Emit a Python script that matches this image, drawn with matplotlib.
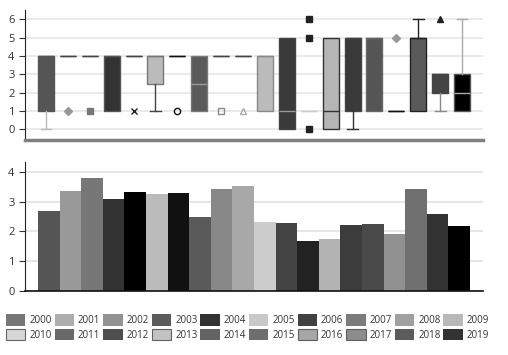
import matplotlib
matplotlib.use("Agg")
import matplotlib.pyplot as plt
from matplotlib.patches import Patch

plt.rcParams['font.family'] = ['Open Sans', 'DejaVu Sans']

years = [str(y) for y in range(2000, 2020)]

# box plot stats
q1 = [1, 4, 4, 1, 4, 2.5, 4, 1, 4, 4, 1, 0, 1, 0, 1, 1, 1, 1, 2, 1]
med = [4, 4, 4, 4, 4, 4, 4, 2.5, 4, 4, 4, 1, 1, 1, 5, 5, 1, 5, 3, 2]
q3 = [4, 4, 4, 4, 4, 4, 4, 4, 4, 4, 4, 5, 1, 5, 5, 5, 1, 5, 3, 3]
whislo = [0, 4, 4, 1, 4, 1, 4, 1, 4, 4, 1, 0, 1, 0, 0, 1, 1, 1, 1, 1]
whishi = [4, 4, 4, 4, 4, 4, 4, 4, 4, 4, 4, 5, 1, 5, 5, 5, 1, 6, 3, 6]
fliers = [[], [1], [1], [], [1], [], [1], [], [1], [1],
          [], [], [0, 5, 6], [], [], [], [5], [], [6], []]

# bar values
bar_values = [2.70, 3.37, 3.80, 3.08, 3.31, 3.24, 3.30, 2.47, 3.43, 3.53,
              2.31, 2.29, 1.68, 1.73, 2.21, 2.26, 1.92, 3.43, 2.57, 2.19]

# styles per box: face, edge, median, whisker, flier marker, flier face, flier edge
box_styles = [
    ('#555555', '#555555', '#555555', '#bbbbbb', 'o', 'none', 'none'),
    ('#999999', '#444444', '#444444', '#444444', 'D', '#999999', '#999999'),
    ('#777777', '#444444', '#444444', '#444444', 's', '#777777', '#777777'),
    ('#333333', '#555555', '#555555', '#555555', 'o', 'none', 'none'),
    ('#222222', '#444444', '#444444', '#444444', 'x', '#222222', '#222222'),
    ('#bbbbbb', '#777777', '#777777', '#444444', 'o', 'none', 'none'),
    ('#111111', '#111111', '#111111', '#111111', 'o', 'none', '#111111'),
    ('#5a5a5a', '#777777', '#999999', '#555555', 'o', 'none', 'none'),
    ('#888888', '#444444', '#444444', '#444444', 's', 'none', '#888888'),
    ('#aaaaaa', '#444444', '#444444', '#444444', '^', 'none', '#aaaaaa'),
    ('#bbbbbb', '#888888', '#888888', '#888888', 'o', 'none', 'none'),
    ('#3a3a3a', '#444444', '#999999', '#444444', 'o', 'none', 'none'),
    ('#222222', '#cccccc', '#cccccc', '#cccccc', 's', '#222222', '#222222'),
    ('#b5b5b5', '#333333', '#333333', '#333333', 'o', 'none', 'none'),
    ('#3a3a3a', '#444444', '#444444', '#333333', 'o', 'none', 'none'),
    ('#555555', '#666666', '#666666', '#666666', 'o', 'none', 'none'),
    ('#999999', '#111111', '#111111', '#111111', 'D', '#999999', '#999999'),
    ('#5a5a5a', '#222222', '#222222', '#222222', 'o', 'none', 'none'),
    ('#444444', '#444444', '#444444', '#888888', '^', '#222222', '#222222'),
    ('#000000', '#555555', '#aaaaaa', '#aaaaaa', 'o', 'none', 'none'),
]

bar_colors = ['#555555', '#999999', '#777777', '#333333', '#000000',
              '#bbbbbb', '#111111', '#5a5a5a', '#888888', '#a8a8a8',
              '#cccccc', '#444444', '#222222', '#b3b3b3', '#3c3c3c',
              '#4a4a4a', '#909090', '#707070', '#333333', '#000000']

# legend swatches that carry an outline in the reference
outlined = {'2010', '2013', '2016', '2017'}

fig = plt.figure(figsize=(5.08, 3.55), dpi=100)
W, H = 508, 355
ax_top = fig.add_axes([25 / W, 1 - 140 / H, 458 / W, 130 / H])
ax_bot = fig.add_axes([25 / W, 1 - 291 / H, 458 / W, 129 / H])

# top: box plots
for i, yr in enumerate(years):
    face, edge, mcol, wcol, mk, mface, medge = box_styles[i]
    stat = dict(q1=q1[i], med=med[i], q3=q3[i], whislo=whislo[i],
                whishi=whishi[i], fliers=fliers[i], label=yr)
    parts = ax_top.bxp([stat], positions=[i], widths=0.73, capwidths=0.5,
                       patch_artist=True, showfliers=True,
                       boxprops=dict(facecolor=face, edgecolor=edge, linewidth=1),
                       medianprops=dict(color=mcol, linewidth=1),
                       whiskerprops=dict(color=wcol, linewidth=1),
                       capprops=dict(color=wcol, linewidth=1),
                       flierprops=dict(marker=mk, markerfacecolor=mface,
                                       markeredgecolor=medge, markersize=4.5,
                                       markeredgewidth=1, linestyle='none'))
    # hide caps on whiskers of zero length
    if whislo[i] >= q1[i]:
        parts['caps'][0].set_visible(False)
    if whishi[i] <= q3[i]:
        parts['caps'][1].set_visible(False)

ax_top.set_xlim(-0.96, 19.96)
ax_top.set_ylim(-0.58, 6.51)
ax_top.set_yticks(range(0, 7))
ax_top.set_xticks([])
ax_top.yaxis.grid(True, color='#e6e6e6', linewidth=1.2)
ax_top.set_axisbelow(True)
for s in ('top', 'right'):
    ax_top.spines[s].set_visible(False)
ax_top.spines['bottom'].set_color('#808080')
ax_top.spines['bottom'].set_linewidth(2.5)
ax_top.spines['left'].set_color('#222222')

# bottom: bars
x = list(range(len(years)))
ax_bot.bar(x, bar_values, width=1.0, color=bar_colors, linewidth=0)
ax_bot.set_xlim(-1.1, 20.1)
ax_bot.set_ylim(0, 4.33)
ax_bot.set_yticks(range(0, 5))
ax_bot.set_xticks([])
ax_bot.yaxis.grid(True, color='#e6e6e6', linewidth=1.5)
ax_bot.set_axisbelow(True)
for s in ('top', 'right'):
    ax_bot.spines[s].set_visible(False)
ax_bot.spines['bottom'].set_color('#111111')
ax_bot.spines['bottom'].set_linewidth(1.2)
ax_bot.spines['left'].set_color('#222222')

for ax in (ax_top, ax_bot):
    ax.tick_params(axis='y', labelsize=8, colors='#333333', length=4, width=0.8)

# legend: two rows, filled row-wise
handles = []
for yr, c in zip(years, bar_colors):
    if yr in outlined:
        handles.append(Patch(facecolor=c, edgecolor='#444444', linewidth=0.8, alpha=0.8))
    else:
        handles.append(Patch(facecolor=c, edgecolor='none', alpha=0.8))
order = []
for col in range(10):
    order.append(col)
    order.append(col + 10)
fig.legend([handles[k] for k in order], [years[k] for k in order],
           loc='upper left', bbox_to_anchor=(6 / W, 1 - 314 / H), ncol=10,
           frameon=False, fontsize=7, handlelength=2.0, handleheight=1.45,
           handletextpad=0.4, columnspacing=0.3, labelspacing=0.3,
           borderpad=0, borderaxespad=0, labelcolor='#333333')

fig.savefig('out.png', dpi=100)
